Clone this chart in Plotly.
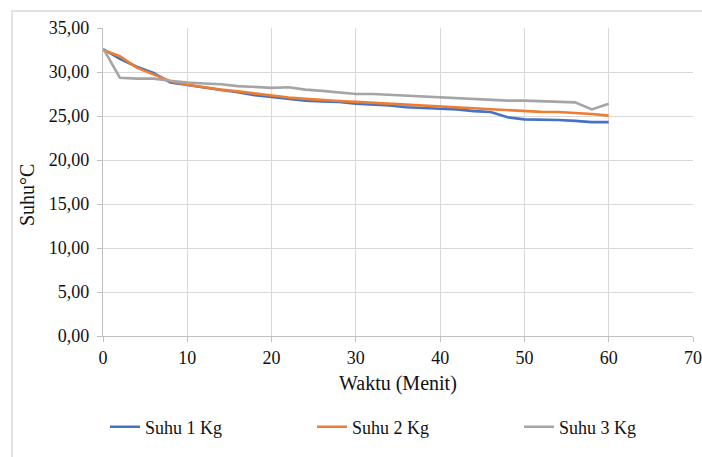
import plotly.graph_objects as go

minutes = [0, 2, 4, 6, 8, 10, 12, 14, 16, 18, 20, 22, 24, 26, 28, 30,
           32, 34, 36, 38, 40, 42, 44, 46, 48, 50, 52, 54, 56, 58, 60]

suhu_1kg = [32.6, 31.5, 30.6, 29.9, 28.8, 28.5, 28.2, 27.95, 27.7, 27.35, 27.15,
            26.95, 26.75, 26.65, 26.6, 26.4, 26.3, 26.2, 26.0, 25.95, 25.83,
            25.75, 25.55, 25.45, 24.85, 24.62, 24.62, 24.55, 24.45, 24.3, 24.3]

suhu_2kg = [32.5, 31.8, 30.5, 29.75, 28.95, 28.55, 28.25, 28.0, 27.8, 27.55, 27.3,
            27.1, 26.95, 26.8, 26.7, 26.6, 26.5, 26.4, 26.3, 26.2, 26.06,
            25.95, 25.9, 25.8, 25.7, 25.57, 25.47, 25.45, 25.38, 25.23, 25.04]

suhu_3kg = [32.7, 29.35, 29.25, 29.25, 29.0, 28.8, 28.7, 28.6, 28.4, 28.3, 28.2,
            28.26, 28.0, 27.85, 27.65, 27.5, 27.5, 27.4, 27.3, 27.25, 27.1,
            27.0, 26.95, 26.85, 26.75, 26.75, 26.7, 26.65, 26.55, 25.75, 26.4]

series_names = ["Suhu 1 Kg", "Suhu 2 Kg", "Suhu 3 Kg"]
series_colors = ["#4472C4", "#ED7D31", "#A5A5A5"]

x_ticks = [0, 10, 20, 30, 40, 50, 60, 70]
y_ticks = [0, 5, 10, 15, 20, 25, 30, 35]

FONT = "Liberation Serif"
TXT = "#111111"

L, R, T, B = 103, 9, 28, 121
PW = 702 - L - R
PH = 457 - T - B

legend_ids = ["legend", "legend2", "legend3"]
legend_px = [105, 312, 519]

fig = go.Figure()
for name, vals, col, lid in zip(series_names, [suhu_1kg, suhu_2kg, suhu_3kg],
                                series_colors, legend_ids):
    fig.add_trace(go.Scatter(x=minutes, y=vals, mode="lines", name=name, legend=lid,
                             line=dict(color=col, width=2.6)))

legend_common = dict(orientation="h", xanchor="left", yanchor="middle",
                     y=-(427 - (T + PH)) / PH,
                     font=dict(family=FONT, size=18, color=TXT),
                     bgcolor="rgba(0,0,0,0)")

axis_common = dict(showgrid=True, gridcolor="#d9d9d9", gridwidth=1.3,
                   showline=True, linecolor="#bfbfbf", linewidth=1.3,
                   ticks="outside", ticklen=5, tickcolor="#bfbfbf",
                   zeroline=False, fixedrange=True, automargin=False,
                   tickfont=dict(family=FONT, size=18, color=TXT))

fig.update_layout(
    width=702, height=457,
    margin=dict(l=L, r=R, t=T, b=B, autoexpand=False),
    paper_bgcolor="white", plot_bgcolor="white",
    separators=",.",
    font=dict(family=FONT, size=18, color=TXT),
    showlegend=True,
    legend=dict(x=(legend_px[0] - L) / PW, **legend_common),
    legend2=dict(x=(legend_px[1] - L) / PW, **legend_common),
    legend3=dict(x=(legend_px[2] - L) / PW, **legend_common),
    xaxis=dict(range=[0, 70], tickvals=x_ticks, ticktext=[str(v) for v in x_ticks],
               **axis_common),
    yaxis=dict(range=[0, 35], tickvals=y_ticks, tickformat=".2f",
               ticklabelstandoff=4, **axis_common),
    shapes=[dict(type="rect", xref="paper", yref="paper",
                 x0=(12 - L) / PW, x1=1.1, y0=-0.6, y1=(T + PH - 11) / PH,
                 line=dict(color="#d9d9d9", width=1.5), fillcolor="rgba(0,0,0,0)",
                 layer="below")],
    annotations=[
        dict(text="Waktu (Menit)", xref="paper", yref="paper",
             x=0.5, y=-(383 - (T + PH)) / PH, xanchor="center", yanchor="middle",
             showarrow=False, font=dict(family=FONT, size=20, color=TXT)),
        dict(text="Suhu°C", xref="paper", yref="paper",
             x=(27 - L) / PW, y=(T + PH - 195) / PH, xanchor="center", yanchor="middle",
             textangle=-90, showarrow=False,
             font=dict(family=FONT, size=20, color=TXT)),
    ],
)

fig.write_html("out.html")
